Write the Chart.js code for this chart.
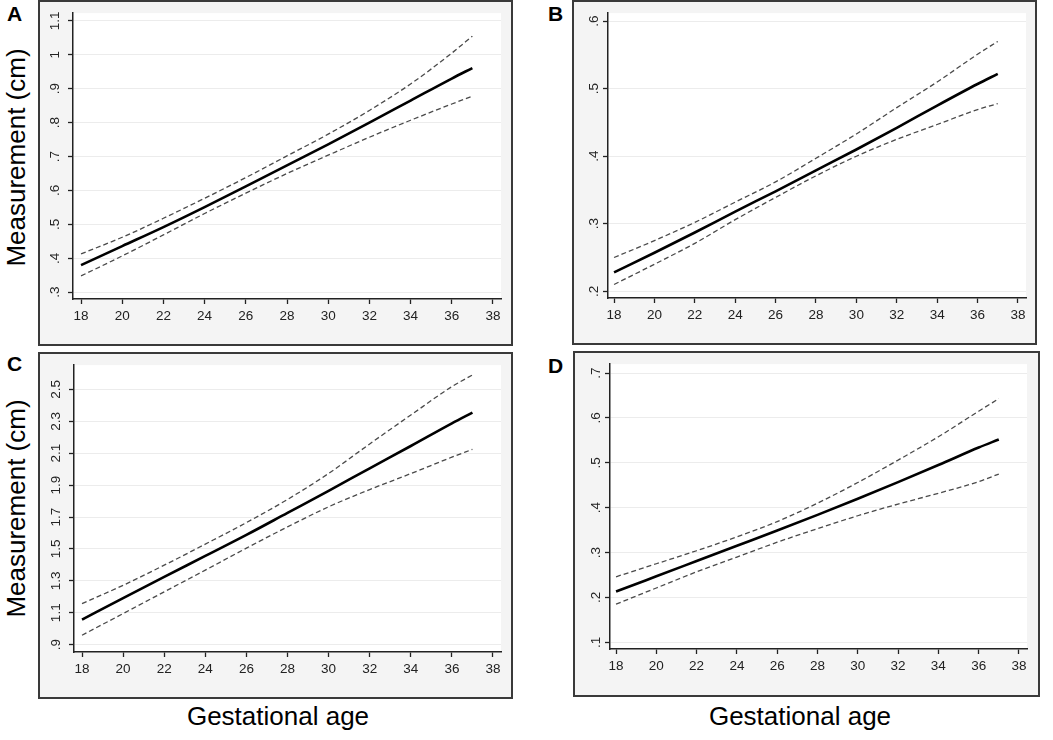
<!DOCTYPE html>
<html>
<head>
<meta charset="utf-8">
<script src="https://cdn.jsdelivr.net/npm/chart.js@4/dist/chart.umd.min.js"></script>
<style>
  body { margin: 0; width: 1053px; height: 740px; background: #fff; position: relative; overflow: hidden; font-family: "Liberation Sans", Arial, sans-serif; }
  .box { position: absolute; box-sizing: border-box; border: 2px solid #3a3a3a; background: #f4f4f4; }
  .box canvas { position: absolute; left: 0; top: 0; }
  .tag { position: absolute; font-weight: bold; font-size: 21px; color: #000; }
  .ylab { position: absolute; font-size: 26px; color: #000; transform: rotate(-90deg); transform-origin: center center; white-space: nowrap; width: 300px; text-align: center; }
  .xlab { position: absolute; font-size: 26px; color: #000; white-space: nowrap; width: 300px; text-align: center; }
</style>
</head>
<body>
<div class="box" id="boxA" style="left:38px;top:0px;width:475px;height:346px"><canvas id="chartA"></canvas></div>
<div class="box" id="boxB" style="left:572px;top:0px;width:465px;height:345px"><canvas id="chartB"></canvas></div>
<div class="box" id="boxC" style="left:38px;top:352px;width:475px;height:347px"><canvas id="chartC"></canvas></div>
<div class="box" id="boxD" style="left:573px;top:351px;width:467px;height:346px"><canvas id="chartD"></canvas></div>

<div class="tag" style="left:7px;top:2px">A</div>
<div class="tag" style="left:548px;top:2px">B</div>
<div class="tag" style="left:7px;top:352px">C</div>
<div class="tag" style="left:548px;top:354px">D</div>

<div class="ylab" style="left:-134px;top:142px">Measurement (cm)</div>
<div class="ylab" style="left:-134px;top:493px">Measurement (cm)</div>
<div class="xlab" style="left:128px;top:701px">Gestational age</div>
<div class="xlab" style="left:650px;top:701px">Gestational age</div>

<script>
// gestational age (weeks) where values were read
const ages = [18, 20, 22, 24, 26, 28, 30, 32, 34, 36, 37];
const xTicks = [18, 20, 22, 24, 26, 28, 30, 32, 34, 36, 38];

// panel A
const fitA = [0.380, 0.436, 0.492, 0.551, 0.612, 0.674, 0.736, 0.800, 0.865, 0.930, 0.961];
const upA = [0.413, 0.462, 0.518, 0.577, 0.638, 0.702, 0.766, 0.836, 0.914, 1.005, 1.055];
const lowA = [0.348, 0.407, 0.469, 0.532, 0.592, 0.650, 0.704, 0.757, 0.807, 0.855, 0.878];
const yTicksA = [0.3, 0.4, 0.5, 0.6, 0.7, 0.8, 0.9, 1, 1.1];
const yLabelsA = ['.3', '.4', '.5', '.6', '.7', '.8', '.9', '1', '1.1'];

// panel B
const fitB = [0.228, 0.257, 0.287, 0.318, 0.348, 0.379, 0.410, 0.442, 0.475, 0.507, 0.522];
const upB = [0.250, 0.275, 0.302, 0.332, 0.362, 0.397, 0.433, 0.472, 0.510, 0.551, 0.570];
const lowB = [0.210, 0.240, 0.271, 0.306, 0.339, 0.371, 0.400, 0.425, 0.447, 0.469, 0.478];
const yTicksB = [0.2, 0.3, 0.4, 0.5, 0.6];
const yLabelsB = ['.2', '.3', '.4', '.5', '.6'];

// panel C
const fitC = [1.057, 1.192, 1.325, 1.456, 1.588, 1.726, 1.864, 2.005, 2.145, 2.287, 2.354];
const upC = [1.157, 1.272, 1.398, 1.530, 1.665, 1.810, 1.973, 2.158, 2.339, 2.517, 2.590];
const lowC = [0.959, 1.095, 1.231, 1.367, 1.505, 1.638, 1.764, 1.872, 1.972, 2.075, 2.124];
const yTicksC = [0.9, 1.1, 1.3, 1.5, 1.7, 1.9, 2.1, 2.3, 2.5];
const yLabelsC = ['.9', '1.1', '1.3', '1.5', '1.7', '1.9', '2.1', '2.3', '2.5'];

// panel D
const fitD = [0.213, 0.247, 0.281, 0.315, 0.349, 0.384, 0.420, 0.457, 0.495, 0.534, 0.552];
const upD = [0.246, 0.275, 0.304, 0.335, 0.369, 0.410, 0.456, 0.506, 0.558, 0.615, 0.643];
const lowD = [0.185, 0.221, 0.257, 0.290, 0.323, 0.353, 0.382, 0.408, 0.432, 0.458, 0.475];
const yTicksD = [0.1, 0.2, 0.3, 0.4, 0.5, 0.6, 0.7];
const yLabelsD = ['.1', '.2', '.3', '.4', '.5', '.6', '.7'];

const whiteArea = {
    id: 'whiteArea',
    beforeDraw: function (chart) {
        const a = chart.chartArea;
        const ctx = chart.ctx;
        ctx.save();
        ctx.fillStyle = '#ffffff';
        ctx.fillRect(a.left, a.top, a.right - a.left, a.bottom - a.top);
        ctx.restore();
    }
};

function pts(ys) {
    return ages.map((a, i) => ({ x: a, y: ys[i] }));
}

// area: plot region inside the canvas (left, top, right, bottom)
function makePanel(id, boxId, fit, up, low, yTicks, yLabels, yRange, xRange, area) {
    const box = document.getElementById(boxId);
    const w = box.clientWidth, h = box.clientHeight;
    const canvas = document.getElementById(id);
    canvas.style.width = w + 'px';
    canvas.style.height = h + 'px';

    const dashed = { borderColor: '#4a4a4a', borderWidth: 1.3, borderDash: [5, 3], pointRadius: 0, cubicInterpolationMode: 'monotone', fill: false };

    new Chart(canvas, {
        type: 'line',
        data: {
            datasets: [
                Object.assign({ label: 'upper', data: pts(up) }, dashed),
                Object.assign({ label: 'lower', data: pts(low) }, dashed),
                { label: 'fit', data: pts(fit), borderColor: '#000', borderWidth: 2.6, pointRadius: 0, cubicInterpolationMode: 'monotone', fill: false }
            ]
        },
        options: {
            responsive: false,
            animation: false,
            devicePixelRatio: 1,
            layout: { padding: { left: 0, top: area[1], right: w - area[2], bottom: 0 } },
            plugins: { legend: { display: false }, tooltip: { enabled: false } },
            scales: {
                x: {
                    type: 'linear',
                    min: xRange[0],
                    max: xRange[1],
                    afterBuildTicks: function (scale) {
                        scale.ticks = xTicks.map(v => ({ value: v }));
                    },
                    afterFit: function (scale) { scale.height = h - area[3]; },
                    grid: { drawOnChartArea: false, tickLength: 5, tickColor: '#222', tickWidth: 1.3 },
                    border: { color: '#222', width: 1.5 },
                    ticks: { color: '#222', padding: 4, maxRotation: 0, font: { family: 'Liberation Sans, Arial', size: 13.5 } }
                },
                y: {
                    min: yRange[0],
                    max: yRange[1],
                    afterBuildTicks: function (scale) {
                        scale.ticks = yTicks.map(v => ({ value: v }));
                    },
                    afterFit: function (scale) { scale.width = area[0]; },
                    grid: { color: '#ececec', lineWidth: 1, tickLength: 5, tickColor: '#222', tickWidth: 1.3 },
                    border: { color: '#222', width: 1.5 },
                    ticks: {
                        color: '#222',
                        padding: 3,
                        minRotation: 90,
                        maxRotation: 90,
                        crossAlign: 'center',
                        font: { family: 'Liberation Sans, Arial', size: 13.5 },
                        callback: function (v) {
                            const i = yTicks.findIndex(t => Math.abs(t - v) < 1e-6);
                            return i >= 0 ? yLabels[i] : '';
                        }
                    }
                }
            }
        },
        plugins: [whiteArea]
    });
}

makePanel('chartA', 'boxA', fitA, upA, lowA, yTicksA, yLabelsA, [0.28, 1.123], [17.61, 38.39], [33, 11, 461, 297]);
makePanel('chartB', 'boxB', fitB, upB, lowB, yTicksB, yLabelsB, [0.19, 0.612], [17.70, 38.40], [34, 10, 452, 296]);
makePanel('chartC', 'boxC', fitC, upC, lowC, yTicksC, yLabelsC, [0.854, 2.652], [17.61, 38.39], [34, 11, 461, 298]);
makePanel('chartD', 'boxD', fitD, upD, lowD, yTicksD, yLabelsD, [0.085, 0.72], [17.70, 38.40], [35, 10, 452, 296]);
</script>
</body>
</html>
